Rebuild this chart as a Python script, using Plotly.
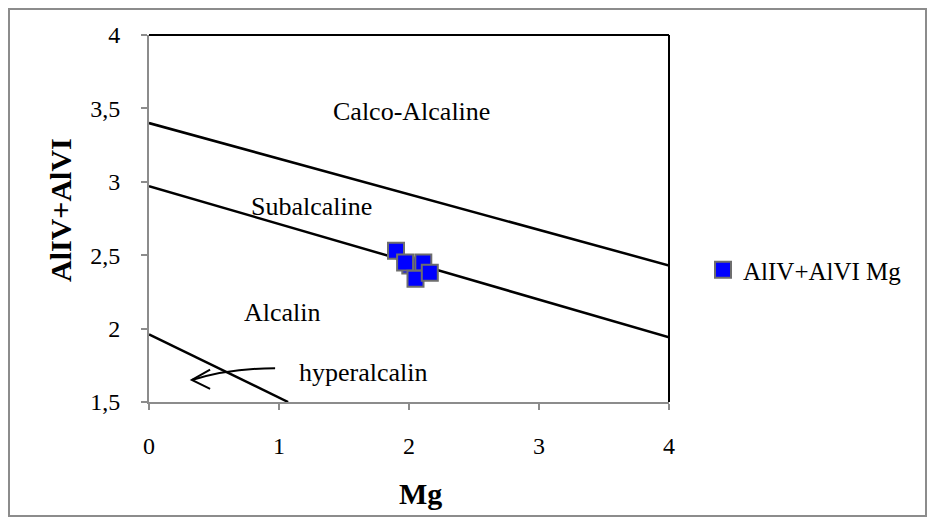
import plotly.graph_objects as go

# ---- data ----
mg_values = [1.90, 2.01, 1.97, 2.11, 2.05, 2.16]
al_values = [2.53, 2.43, 2.45, 2.45, 2.34, 2.38]

upper_line_x = [0, 4]
upper_line_y = [3.40, 2.43]
middle_line_x = [0, 4]
middle_line_y = [2.97, 1.94]
lower_line_x = [0, 1.07]
lower_line_y = [1.96, 1.50]

x_ticks = [0, 1, 2, 3, 4]
y_ticks = [1.5, 2, 2.5, 3, 3.5, 4]

field_labels = ["Calco-Alcaline", "Subalcaline", "Alcalin", "hyperalcalin"]
field_x = [2.02, 1.25, 1.03, 1.65]
field_y = [3.48, 2.83, 2.11, 1.70]

FONT = "Liberation Serif, Times New Roman, serif"

# page-pixel -> paper helpers (plot area spans page x 149..669, y 35..402)
def xp(px):
    return (px - 149) / 520.0

def yp(py):
    return (402 - py) / 367.0

fig = go.Figure()

for lx, ly in [(upper_line_x, upper_line_y), (middle_line_x, middle_line_y), (lower_line_x, lower_line_y)]:
    fig.add_trace(go.Scatter(x=lx, y=ly, mode="lines", line=dict(color="black", width=2.5),
                             showlegend=False, hoverinfo="skip"))

fig.add_trace(go.Scatter(
    x=mg_values, y=al_values, mode="markers", name="AlIV+AlVI Mg",
    marker=dict(symbol="square", size=16, color="#0000FF", line=dict(color="#6E6E6E", width=2)),
))

for t, x, y in zip(field_labels, field_x, field_y):
    fig.add_annotation(x=x, y=y, text=t, showarrow=False, xanchor="center", yanchor="middle",
                       font=dict(family=FONT, size=26, color="black"))

# curved arrow for hyperalcalin
fig.add_shape(type="path", xref="x", yref="y",
              path="M 0.97,1.73 Q 0.62,1.73 0.33,1.65",
              line=dict(color="black", width=2))
fig.add_shape(type="path", xref="x", yref="y",
              path="M 0.47,1.72 L 0.33,1.65 L 0.47,1.59",
              line=dict(color="black", width=2))

# plot area top/right border
fig.add_shape(type="line", xref="paper", yref="paper", x0=0, x1=1, y0=1, y1=1, line=dict(color="black", width=2))
fig.add_shape(type="line", xref="paper", yref="paper", x0=1, x1=1, y0=0, y1=1, line=dict(color="black", width=2))

# outer chart border
fig.add_shape(type="rect", xref="paper", yref="paper",
              x0=xp(9), x1=xp(926), y0=yp(516), y1=yp(9),
              line=dict(color="#8C8C8C", width=2))

# axis titles
fig.add_annotation(xref="paper", yref="paper", x=xp(420), y=yp(493), xanchor="center", yanchor="middle",
                   text="<b>Mg</b>", showarrow=False, font=dict(family=FONT, size=30, color="black"))
fig.add_annotation(xref="paper", yref="paper", x=xp(60), y=yp(210), xanchor="center", yanchor="middle",
                   text="<b>AlIV+AlVI</b>", textangle=-90, showarrow=False,
                   font=dict(family=FONT, size=30, color="black"))

fig.update_layout(
    width=927, height=516,
    margin=dict(l=141, r=266, t=27, b=122),
    paper_bgcolor="white", plot_bgcolor="white",
    separators=", ",
    font=dict(family=FONT, size=24, color="black"),
    legend=dict(x=xp(703), y=yp(270), xanchor="left", yanchor="middle",
                font=dict(family=FONT, size=25, color="black"), itemsizing="trace",
                bgcolor="rgba(0,0,0,0)"),
    xaxis=dict(range=[0, 4], tickvals=x_ticks, showgrid=False, zeroline=False,
               showline=True, linecolor="#8C8C8C", linewidth=2,
               ticks="outside", ticklen=6, tickcolor="#8C8C8C", tickwidth=1.5,
               ticklabelstandoff=15, tickfont=dict(family=FONT, size=24)),
    yaxis=dict(range=[1.5, 4], tickvals=y_ticks, showgrid=False, zeroline=False,
               showline=True, linecolor="#8C8C8C", linewidth=2,
               ticks="outside", ticklen=6, tickcolor="#8C8C8C", tickwidth=1.5,
               ticklabelstandoff=16, tickfont=dict(family=FONT, size=24)),
)

fig.write_html("out.html")
